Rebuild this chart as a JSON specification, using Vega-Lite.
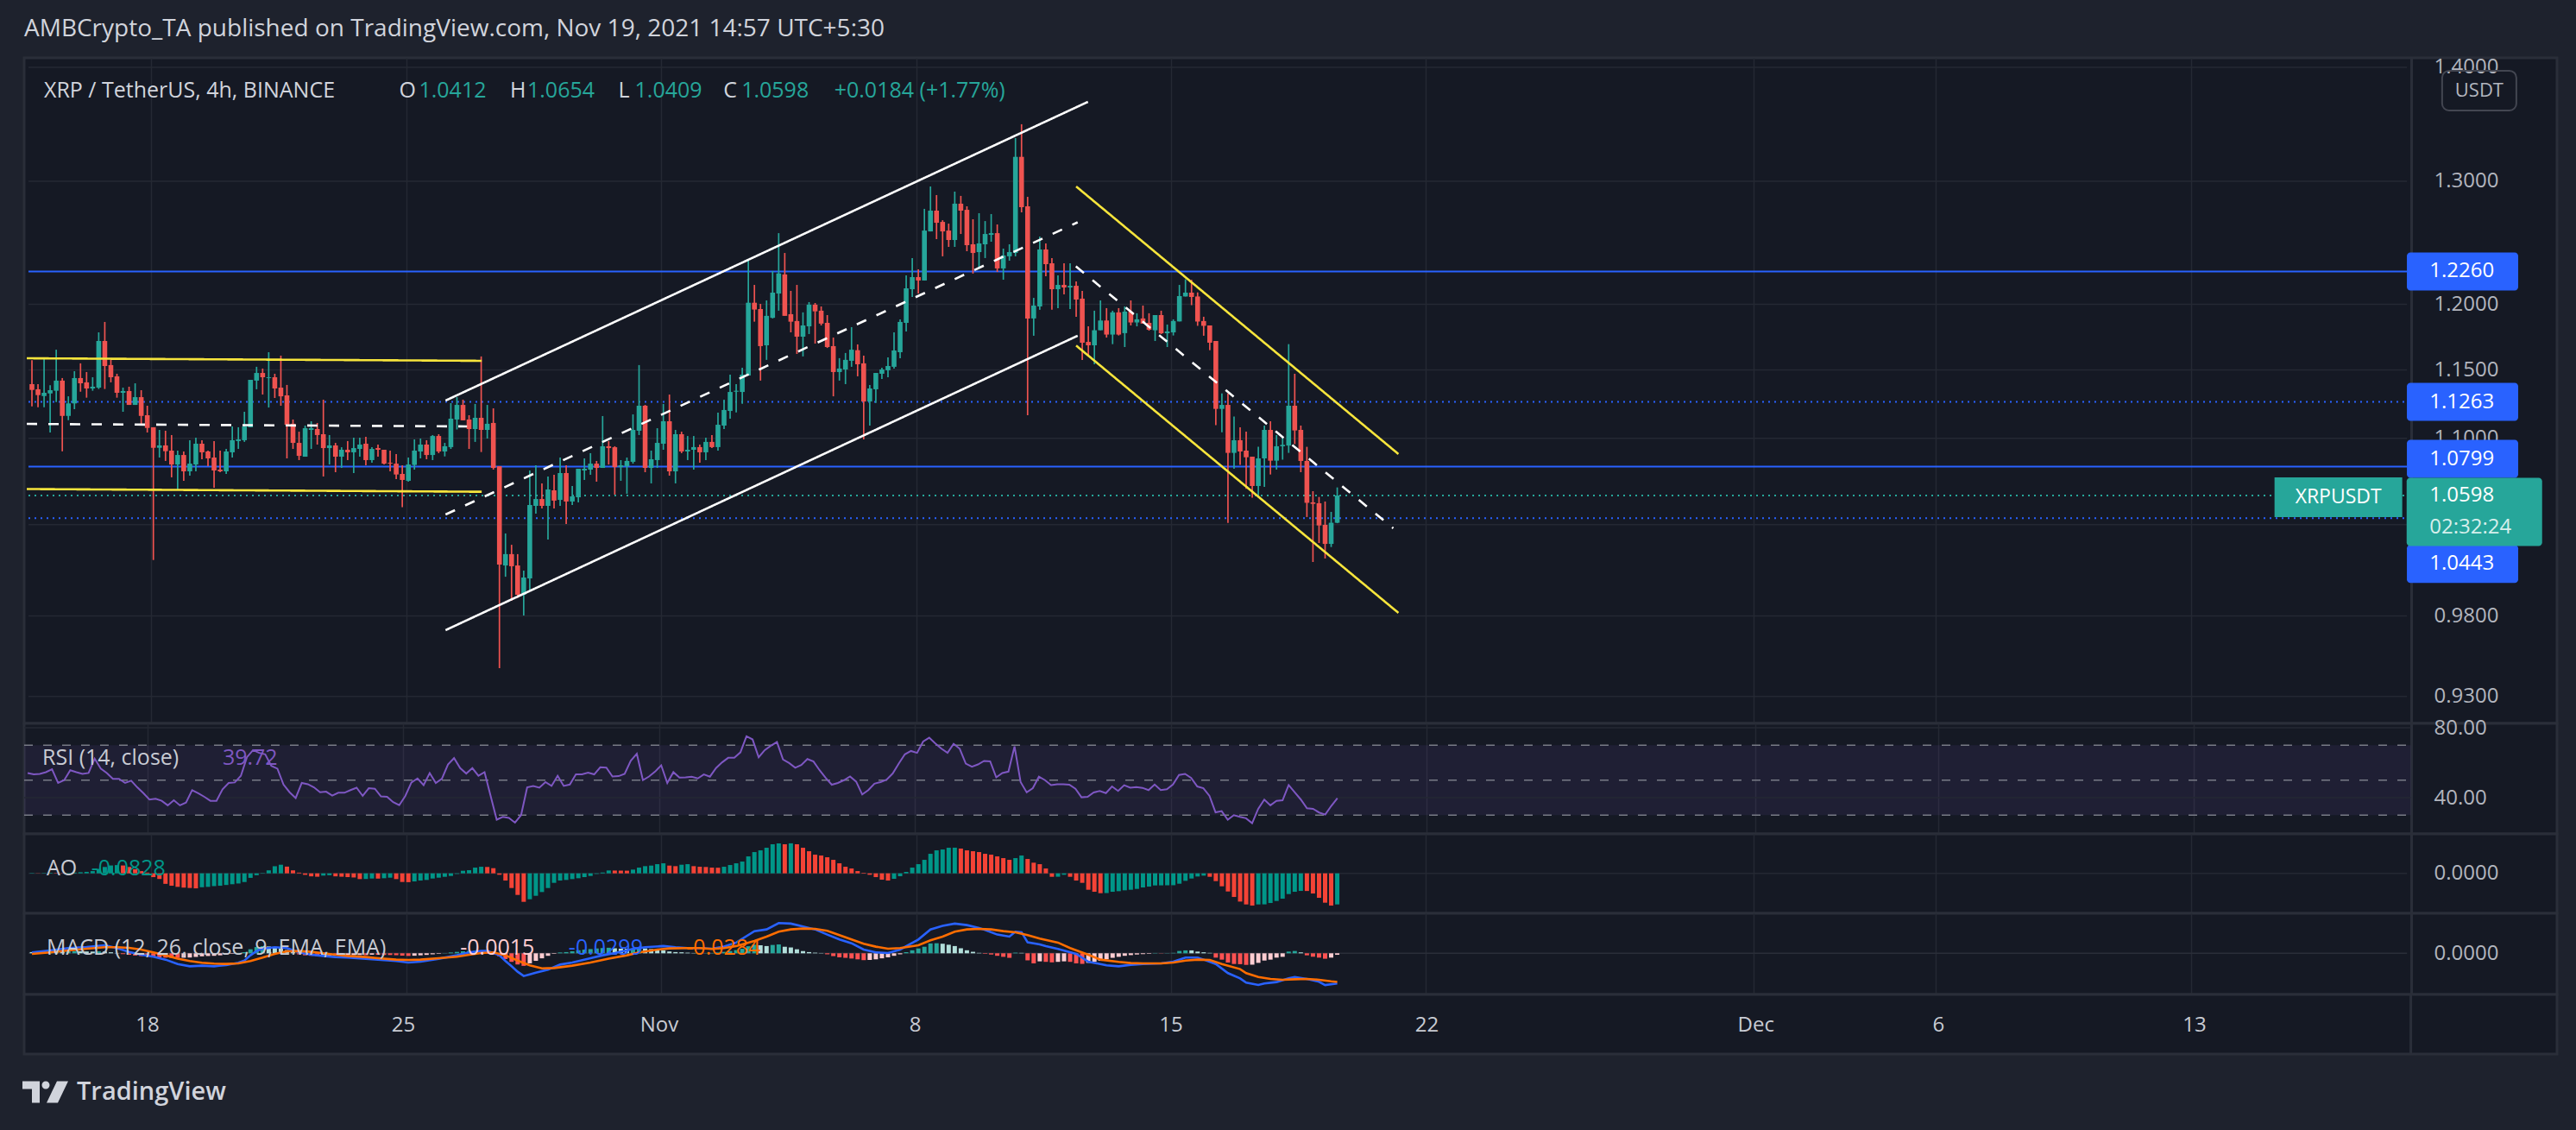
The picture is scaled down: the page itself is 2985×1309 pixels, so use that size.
{
"$schema":"https://vega.github.io/schema/vega-lite/v6.json",
"background":"#1e222d",
"padding":{"left":25,"right":25,"top":20,"bottom":0},
"title":{"text":"AMBCrypto_TA published on TradingView.com, Nov 19, 2021 14:57 UTC+5:30","anchor":"start","fontSize":28,"fontWeight":"normal","color":"#d1d4dc","offset":16,"frame":"group"},
"config":{"font":"Open Sans","view":{"fill":"#151924","stroke":"#2a2e39","strokeWidth":3},
"axis":{"domain":false,"ticks":false,"tickSize":0,"grid":false,"title":null,"labelColor":"#b2b5be","labelFontSize":24,"labelFont":"Open Sans","labelOverlap":false,"labelFlush":false,"labelBound":false},
"axisX":{"labels":false}},
"spacing":0,
"bounds":"flush",
"resolve":{"scale":{"x":"independent","y":"independent","color":"independent","strokeDash":"independent"},"axis":{"x":"independent","y":"independent"}},
"datasets":{
"pgrid":[{"p":1.4},{"p":1.3},{"p":1.2},{"p":1.15},{"p":1.1},{"p":1.04},{"p":0.98},{"p":0.93}],
"levels":[{"p":1.226,"t":"1.2260","k":"line"},{"p":1.1263,"t":"1.1263","k":"alert"},{"p":1.0799,"t":"1.0799","k":"line"},{"p":1.0598,"t":"1.0598","k":"last","t2":"02:32:24"},{"p":1.0443,"t":"1.0443","k":"alert"}],
"tl":[{"id":"r1","s":"range","i":-0.85,"p":1.1587},{"id":"r1","s":"range","i":74.08,"p":1.1568},
{"id":"r2","s":"range","i":-0.85,"p":1.0643},{"id":"r2","s":"range","i":74.08,"p":1.0624},
{"id":"m1","s":"mid","i":-0.85,"p":1.1103},{"id":"m1","s":"mid","i":71.67,"p":1.1085},
{"id":"a1","s":"channel","i":68.13,"p":1.1273},{"id":"a1","s":"channel","i":173.94,"p":1.3689},
{"id":"a2","s":"channel","i":68.13,"p":0.971},{"id":"a2","s":"channel","i":172.24,"p":1.1758},
{"id":"m2","s":"mid","i":68.13,"p":1.0468},{"id":"m2","s":"mid","i":172.24,"p":1.2658},
{"id":"m3","s":"mid","i":171.95,"p":1.23},{"id":"m3","s":"mid","i":224.22,"p":1.0375},
{"id":"d1","s":"falling","i":172.0,"p":1.2956},{"id":"d1","s":"falling","i":225.07,"p":1.0888},
{"id":"d2","s":"falling","i":172.0,"p":1.1683},{"id":"d2","s":"falling","i":225.07,"p":0.982}],
"ml":[{"i":0,"m":0.0009},{"i":3,"m":0.0029},{"i":6,"m":0.0052},{"i":9,"m":0.0063},{"i":12,"m":0.008},{"i":14,"m":0.0052},{"i":16,"m":0.0014},{"i":18,"m":-0.0014},{"i":20,"m":-0.0034},{"i":22,"m":-0.0063},{"i":24,"m":-0.0106},{"i":26,"m":-0.0129},{"i":28,"m":-0.0123},{"i":30,"m":-0.0129},{"i":32,"m":-0.0117},{"i":34,"m":-0.0094},{"i":35,"m":-0.0072},{"i":36,"m":-0.002},{"i":37,"m":0.0023},{"i":38,"m":0.0046},{"i":40,"m":0.006},{"i":42,"m":0.0052},{"i":44,"m":0.0009},{"i":46,"m":-0.0014},{"i":48,"m":-0.0026},{"i":50,"m":-0.0037},{"i":52,"m":-0.0043},{"i":55,"m":-0.0054},{"i":57,"m":-0.0063},{"i":60,"m":-0.0077},{"i":62,"m":-0.0092},{"i":64,"m":-0.0083},{"i":67,"m":-0.0054},{"i":70,"m":-0.002},{"i":72,"m":0.0009},{"i":74,"m":0.0023},{"i":75,"m":0.0023},{"i":77,"m":-0.002},{"i":78,"m":-0.0077},{"i":79,"m":-0.0129},{"i":80,"m":-0.0183},{"i":81,"m":-0.0226},{"i":82,"m":-0.0209},{"i":83,"m":-0.0192},{"i":85,"m":-0.0163},{"i":87,"m":-0.0112},{"i":89,"m":-0.0092},{"i":92,"m":-0.0049},{"i":94,"m":-0.002},{"i":96,"m":0.0003},{"i":99,"m":0.0043},{"i":101,"m":0.006},{"i":104,"m":0.0072},{"i":106,"m":0.006},{"i":108,"m":0.0052},{"i":110,"m":0.0052},{"i":112,"m":0.0046},{"i":114,"m":0.0066},{"i":116,"m":0.0106},{"i":119,"m":0.022},{"i":121,"m":0.0237},{"i":123,"m":0.03},{"i":125,"m":0.0295},{"i":127,"m":0.0266},{"i":129,"m":0.0237},{"i":131,"m":0.0186},{"i":133,"m":0.0137},{"i":135,"m":0.01},{"i":137,"m":0.0037},{"i":139,"m":0.0009},{"i":141,"m":0.0003},{"i":143,"m":0.0037},{"i":146,"m":0.0137},{"i":148,"m":0.0237},{"i":150,"m":0.0272},{"i":152,"m":0.0295},{"i":154,"m":0.028},{"i":156,"m":0.0252},{"i":157,"m":0.0232},{"i":159,"m":0.0186},{"i":161,"m":0.0166},{"i":162,"m":0.0215},{"i":163,"m":0.0209},{"i":164,"m":0.0109},{"i":166,"m":0.0089},{"i":167,"m":0.0072},{"i":169,"m":0.0043},{"i":172,"m":-0.0006},{"i":174,"m":-0.0083},{"i":177,"m":-0.012},{"i":179,"m":-0.0129},{"i":181,"m":-0.0114},{"i":183,"m":-0.0106},{"i":186,"m":-0.01},{"i":188,"m":-0.0083},{"i":190,"m":-0.0043},{"i":192,"m":-0.0043},{"i":193,"m":-0.0063},{"i":195,"m":-0.0106},{"i":197,"m":-0.0197},{"i":199,"m":-0.0249},{"i":200,"m":-0.0292},{"i":202,"m":-0.0315},{"i":203,"m":-0.03},{"i":205,"m":-0.0286},{"i":207,"m":-0.0249},{"i":208,"m":-0.0235},{"i":210,"m":-0.0255},{"i":212,"m":-0.0283},{"i":213,"m":-0.0315},{"i":215,"m":-0.0299}],
"sl":[{"i":0,"s":-0.0006},{"i":3,"s":0.0009},{"i":6,"s":0.0029},{"i":9,"s":0.0046},{"i":12,"s":0.006},{"i":14,"s":0.006},{"i":16,"s":0.0054},{"i":18,"s":0.0037},{"i":20,"s":0.0009},{"i":22,"s":-0.002},{"i":24,"s":-0.0054},{"i":26,"s":-0.0077},{"i":28,"s":-0.0094},{"i":30,"s":-0.0103},{"i":32,"s":-0.0106},{"i":34,"s":-0.01},{"i":36,"s":-0.0077},{"i":38,"s":-0.0043},{"i":40,"s":-0.0006},{"i":42,"s":0.002},{"i":44,"s":0.0023},{"i":46,"s":0.0014},{"i":48,"s":0.0},{"i":50,"s":-0.0014},{"i":52,"s":-0.0026},{"i":55,"s":-0.0037},{"i":57,"s":-0.0049},{"i":60,"s":-0.0063},{"i":62,"s":-0.0066},{"i":64,"s":-0.0063},{"i":67,"s":-0.0049},{"i":70,"s":-0.0034},{"i":72,"s":-0.0014},{"i":74,"s":0.0003},{"i":76,"s":0.0009},{"i":78,"s":-0.002},{"i":80,"s":-0.0072},{"i":82,"s":-0.012},{"i":84,"s":-0.0149},{"i":86,"s":-0.0146},{"i":89,"s":-0.0123},{"i":92,"s":-0.0092},{"i":95,"s":-0.0054},{"i":98,"s":-0.002},{"i":100,"s":0.0009},{"i":103,"s":0.0037},{"i":105,"s":0.0049},{"i":108,"s":0.0052},{"i":110,"s":0.0052},{"i":112,"s":0.0043},{"i":114,"s":0.0052},{"i":116,"s":0.0072},{"i":119,"s":0.0123},{"i":121,"s":0.0166},{"i":123,"s":0.0215},{"i":125,"s":0.0237},{"i":127,"s":0.0246},{"i":129,"s":0.0243},{"i":131,"s":0.0223},{"i":133,"s":0.018},{"i":135,"s":0.0137},{"i":137,"s":0.0094},{"i":139,"s":0.0066},{"i":141,"s":0.0046},{"i":143,"s":0.0052},{"i":146,"s":0.008},{"i":148,"s":0.0129},{"i":150,"s":0.0166},{"i":152,"s":0.0215},{"i":154,"s":0.0237},{"i":156,"s":0.0243},{"i":158,"s":0.0237},{"i":160,"s":0.022},{"i":162,"s":0.0209},{"i":164,"s":0.018},{"i":166,"s":0.0146},{"i":169,"s":0.0106},{"i":171,"s":0.0052},{"i":174,"s":-0.0014},{"i":176,"s":-0.0063},{"i":179,"s":-0.0086},{"i":181,"s":-0.0097},{"i":183,"s":-0.01},{"i":186,"s":-0.01},{"i":188,"s":-0.0092},{"i":190,"s":-0.0072},{"i":192,"s":-0.0063},{"i":194,"s":-0.0066},{"i":196,"s":-0.0106},{"i":199,"s":-0.0157},{"i":200,"s":-0.0197},{"i":202,"s":-0.0235},{"i":204,"s":-0.0255},{"i":206,"s":-0.0263},{"i":208,"s":-0.0258},{"i":210,"s":-0.0255},{"i":212,"s":-0.0263},{"i":214,"s":-0.0278},{"i":215,"s":-0.0284}],
"k":[
{"i":0,"o":1.1394,"h":1.1573,"l":1.1231,"c":1.1351,"r":54.1,"a":0.001,"ad":"u","hv":0.0012,"hc":"pd"},
{"i":1,"o":1.1356,"h":1.1394,"l":1.1224,"c":1.1313,"r":53.3,"a":0.0005,"ad":"d","hv":0.0014,"hc":"pu"},
{"i":2,"o":1.1306,"h":1.1594,"l":1.1224,"c":1.133,"r":53.6,"a":0.001,"ad":"u","hv":0.0016,"hc":"pu"},
{"i":3,"o":1.1325,"h":1.1386,"l":1.1041,"c":1.1349,"r":54.6,"a":0.0015,"ad":"u","hv":0.0018,"hc":"pu"},
{"i":4,"o":1.1345,"h":1.1652,"l":1.1262,"c":1.142,"r":56.2,"a":0.001,"ad":"d","hv":0.002,"hc":"pu"},
{"i":5,"o":1.142,"h":1.1439,"l":1.0907,"c":1.1161,"r":48.4,"a":0.0005,"ad":"d","hv":0.0019,"hc":"pd"},
{"i":6,"o":1.1161,"h":1.1304,"l":1.113,"c":1.1252,"r":50.0,"a":0.001,"ad":"u","hv":0.002,"hc":"pu"},
{"i":7,"o":1.1252,"h":1.149,"l":1.121,"c":1.1439,"r":55.7,"a":0.002,"ad":"u","hv":0.0022,"hc":"pu"},
{"i":8,"o":1.1439,"h":1.1549,"l":1.1338,"c":1.14,"r":54.6,"a":0.003,"ad":"u","hv":0.002,"hc":"pd"},
{"i":9,"o":1.1407,"h":1.1484,"l":1.1294,"c":1.1362,"r":53.6,"a":0.004,"ad":"u","hv":0.0018,"hc":"pd"},
{"i":10,"o":1.1362,"h":1.1445,"l":1.1345,"c":1.1375,"r":54.1,"a":0.006,"ad":"u","hv":0.0017,"hc":"pd"},
{"i":11,"o":1.1368,"h":1.1784,"l":1.1358,"c":1.1718,"r":62.3,"a":0.012,"ad":"u","hv":0.0019,"hc":"pu"},
{"i":12,"o":1.1718,"h":1.1864,"l":1.1358,"c":1.1529,"r":56.6,"a":0.017,"ad":"u","hv":0.0018,"hc":"pd"},
{"i":13,"o":1.1536,"h":1.1588,"l":1.1407,"c":1.1445,"r":54.1,"a":0.021,"ad":"u","hv":0.001,"hc":"pd"},
{"i":14,"o":1.1452,"h":1.1471,"l":1.1294,"c":1.133,"r":50.8,"a":0.022,"ad":"u","hv":0.0002,"hc":"pd"},
{"i":15,"o":1.133,"h":1.1368,"l":1.1191,"c":1.1343,"r":50.8,"a":0.021,"ad":"d","hv":-0.0008,"hc":"nd"},
{"i":16,"o":1.1343,"h":1.1375,"l":1.1241,"c":1.1241,"r":48.4,"a":0.017,"ad":"d","hv":-0.0015,"hc":"nd"},
{"i":17,"o":1.1241,"h":1.14,"l":1.1241,"c":1.1298,"r":49.7,"a":0.011,"ad":"d","hv":-0.0022,"hc":"nd"},
{"i":18,"o":1.1298,"h":1.1349,"l":1.1097,"c":1.1161,"r":45.9,"a":0.006,"ad":"d","hv":-0.0028,"hc":"nd"},
{"i":19,"o":1.1166,"h":1.1235,"l":1.1041,"c":1.1074,"r":42.6,"a":0.002,"ad":"d","hv":-0.0032,"hc":"nd"},
{"i":20,"o":1.1079,"h":1.1079,"l":1.0163,"c":1.0932,"r":38.9,"a":-0.01,"ad":"d","hv":-0.0036,"hc":"nd"},
{"i":21,"o":1.0932,"h":1.106,"l":1.0863,"c":1.0949,"r":39.4,"a":-0.015,"ad":"d","hv":-0.004,"hc":"nd"},
{"i":22,"o":1.0949,"h":1.1054,"l":1.0839,"c":1.0908,"r":38.2,"a":-0.028,"ad":"d","hv":-0.0043,"hc":"nd"},
{"i":23,"o":1.0912,"h":1.1023,"l":1.0724,"c":1.0814,"r":35.6,"a":-0.033,"ad":"d","hv":-0.0045,"hc":"nd"},
{"i":24,"o":1.0814,"h":1.0912,"l":1.0634,"c":1.0881,"r":38.5,"a":-0.036,"ad":"d","hv":-0.0046,"hc":"nd"},
{"i":25,"o":1.0881,"h":1.0906,"l":1.07,"c":1.0766,"r":35.6,"a":-0.038,"ad":"d","hv":-0.0044,"hc":"nu"},
{"i":26,"o":1.0766,"h":1.0986,"l":1.0736,"c":1.082,"r":37.2,"a":-0.039,"ad":"d","hv":-0.0042,"hc":"nu"},
{"i":27,"o":1.0814,"h":1.1004,"l":1.0766,"c":1.0961,"r":44.3,"a":-0.04,"ad":"d","hv":-0.0036,"hc":"nu"},
{"i":28,"o":1.0961,"h":1.0986,"l":1.0851,"c":1.09,"r":42.5,"a":-0.037,"ad":"u","hv":-0.003,"hc":"nu"},
{"i":29,"o":1.0906,"h":1.0912,"l":1.0802,"c":1.0857,"r":40.5,"a":-0.036,"ad":"u","hv":-0.0027,"hc":"nu"},
{"i":30,"o":1.0863,"h":1.098,"l":1.0652,"c":1.0772,"r":38.2,"a":-0.034,"ad":"u","hv":-0.0025,"hc":"nu"},
{"i":31,"o":1.0778,"h":1.0912,"l":1.076,"c":1.0766,"r":38.2,"a":-0.033,"ad":"u","hv":-0.002,"hc":"nu"},
{"i":32,"o":1.0766,"h":1.0924,"l":1.0748,"c":1.0906,"r":44.8,"a":-0.031,"ad":"u","hv":-0.0012,"hc":"nu"},
{"i":33,"o":1.09,"h":1.1085,"l":1.0863,"c":1.0986,"r":48.4,"a":-0.029,"ad":"u","hv":-0.0005,"hc":"nu"},
{"i":34,"o":1.098,"h":1.1079,"l":1.0924,"c":1.0992,"r":48.7,"a":-0.027,"ad":"u","hv":0.0004,"hc":"pu"},
{"i":35,"o":1.0986,"h":1.1191,"l":1.0974,"c":1.1085,"r":52.5,"a":-0.023,"ad":"u","hv":0.0012,"hc":"pu"},
{"i":36,"o":1.1079,"h":1.1426,"l":1.1079,"c":1.1426,"r":63.1,"a":-0.012,"ad":"u","hv":0.004,"hc":"pu"},
{"i":37,"o":1.142,"h":1.1523,"l":1.1356,"c":1.1477,"r":67.2,"a":-0.005,"ad":"u","hv":0.0062,"hc":"pu"},
{"i":38,"o":1.1477,"h":1.151,"l":1.1317,"c":1.1445,"r":65.6,"a":0.001,"ad":"u","hv":0.007,"hc":"pu"},
{"i":39,"o":1.1439,"h":1.1633,"l":1.1222,"c":1.1445,"r":64.8,"a":0.008,"ad":"u","hv":0.0068,"hc":"pd"},
{"i":40,"o":1.1445,"h":1.1471,"l":1.1292,"c":1.1362,"r":58.2,"a":0.019,"ad":"u","hv":0.0063,"hc":"pd"},
{"i":41,"o":1.1368,"h":1.1607,"l":1.1235,"c":1.1304,"r":56.6,"a":0.023,"ad":"u","hv":0.005,"hc":"pd"},
{"i":42,"o":1.1311,"h":1.1388,"l":1.0857,"c":1.1097,"r":47.5,"a":0.018,"ad":"d","hv":0.0032,"hc":"pd"},
{"i":43,"o":1.1104,"h":1.1135,"l":1.0924,"c":1.0967,"r":43.1,"a":0.008,"ad":"d","hv":0.0012,"hc":"pd"},
{"i":44,"o":1.0967,"h":1.1047,"l":1.0845,"c":1.0875,"r":39.8,"a":0.002,"ad":"d","hv":-0.001,"hc":"nd"},
{"i":45,"o":1.0869,"h":1.1091,"l":1.0869,"c":1.1072,"r":48.4,"a":-0.004,"ad":"d","hv":-0.002,"hc":"nd"},
{"i":46,"o":1.106,"h":1.1122,"l":1.0924,"c":1.1072,"r":47.7,"a":-0.008,"ad":"d","hv":-0.0025,"hc":"nd"},
{"i":47,"o":1.1066,"h":1.111,"l":1.0955,"c":1.1023,"r":45.9,"a":-0.009,"ad":"d","hv":-0.0026,"hc":"nd"},
{"i":48,"o":1.1029,"h":1.1279,"l":1.073,"c":1.093,"r":43.1,"a":-0.006,"ad":"u","hv":-0.0024,"hc":"nu"},
{"i":49,"o":1.093,"h":1.1023,"l":1.0814,"c":1.0949,"r":43.4,"a":-0.005,"ad":"u","hv":-0.0022,"hc":"nu"},
{"i":50,"o":1.0949,"h":1.0967,"l":1.076,"c":1.0869,"r":41.2,"a":-0.008,"ad":"d","hv":-0.0023,"hc":"nd"},
{"i":51,"o":1.0869,"h":1.0936,"l":1.079,"c":1.0918,"r":42.8,"a":-0.009,"ad":"d","hv":-0.0021,"hc":"nu"},
{"i":52,"o":1.0918,"h":1.098,"l":1.0845,"c":1.09,"r":42.8,"a":-0.01,"ad":"d","hv":-0.0019,"hc":"nu"},
{"i":53,"o":1.09,"h":1.1004,"l":1.0754,"c":1.093,"r":44.3,"a":-0.011,"ad":"d","hv":-0.0018,"hc":"nu"},
{"i":54,"o":1.0924,"h":1.1004,"l":1.0869,"c":1.0955,"r":45.7,"a":-0.0153,"ad":"d","hv":-0.0017,"hc":"nu"},
{"i":55,"o":1.0961,"h":1.101,"l":1.0808,"c":1.0845,"r":41.0,"a":-0.015,"ad":"u","hv":-0.0019,"hc":"nd"},
{"i":56,"o":1.0845,"h":1.0936,"l":1.0827,"c":1.0924,"r":45.4,"a":-0.0138,"ad":"u","hv":-0.0014,"hc":"nu"},
{"i":57,"o":1.093,"h":1.0955,"l":1.0869,"c":1.0918,"r":45.1,"a":-0.014,"ad":"d","hv":-0.0015,"hc":"nd"},
{"i":58,"o":1.0918,"h":1.0918,"l":1.0814,"c":1.082,"r":40.7,"a":-0.013,"ad":"u","hv":-0.0016,"hc":"nd"},
{"i":59,"o":1.0826,"h":1.0912,"l":1.0766,"c":1.082,"r":40.5,"a":-0.0115,"ad":"u","hv":-0.0017,"hc":"nd"},
{"i":60,"o":1.082,"h":1.0887,"l":1.0712,"c":1.0744,"r":37.4,"a":-0.0153,"ad":"d","hv":-0.0019,"hc":"nd"},
{"i":61,"o":1.0748,"h":1.0808,"l":1.0518,"c":1.0706,"r":35.7,"a":-0.023,"ad":"d","hv":-0.0023,"hc":"nd"},
{"i":62,"o":1.07,"h":1.0863,"l":1.0694,"c":1.0814,"r":41.0,"a":-0.0235,"ad":"d","hv":-0.0026,"hc":"nd"},
{"i":63,"o":1.0811,"h":1.0992,"l":1.0778,"c":1.0912,"r":48.7,"a":-0.0215,"ad":"u","hv":-0.0024,"hc":"nu"},
{"i":64,"o":1.0906,"h":1.0998,"l":1.0857,"c":1.0955,"r":51.0,"a":-0.0192,"ad":"u","hv":-0.002,"hc":"nu"},
{"i":65,"o":1.0955,"h":1.0986,"l":1.0851,"c":1.0881,"r":47.2,"a":-0.0176,"ad":"u","hv":-0.0016,"hc":"nu"},
{"i":66,"o":1.0881,"h":1.1023,"l":1.0845,"c":1.1016,"r":54.1,"a":-0.0138,"ad":"u","hv":-0.001,"hc":"nu"},
{"i":67,"o":1.1016,"h":1.1029,"l":1.0894,"c":1.0906,"r":48.4,"a":-0.0115,"ad":"u","hv":-0.0005,"hc":"nu"},
{"i":68,"o":1.0906,"h":1.0967,"l":1.0871,"c":1.0943,"r":50.8,"a":-0.0092,"ad":"u","hv":0.0002,"hc":"pu"},
{"i":69,"o":1.0937,"h":1.1254,"l":1.0924,"c":1.1141,"r":59.0,"a":-0.0069,"ad":"u","hv":0.0008,"hc":"pu"},
{"i":70,"o":1.1135,"h":1.1298,"l":1.1063,"c":1.1241,"r":62.6,"a":-0.0015,"ad":"u","hv":0.0014,"hc":"pu"},
{"i":71,"o":1.1241,"h":1.1279,"l":1.1129,"c":1.1129,"r":56.9,"a":0.0069,"ad":"u","hv":0.002,"hc":"pu"},
{"i":72,"o":1.1135,"h":1.1166,"l":1.0924,"c":1.1066,"r":53.8,"a":0.0084,"ad":"u","hv":0.0023,"hc":"pu"},
{"i":73,"o":1.1066,"h":1.1248,"l":1.0974,"c":1.1147,"r":56.9,"a":0.0153,"ad":"u","hv":0.0024,"hc":"pu"},
{"i":74,"o":1.1147,"h":1.1601,"l":1.0902,"c":1.106,"r":52.5,"a":0.0176,"ad":"u","hv":0.002,"hc":"pd"},
{"i":75,"o":1.106,"h":1.1241,"l":1.0998,"c":1.1104,"r":54.6,"a":0.017,"ad":"d","hv":0.0012,"hc":"pd"},
{"i":76,"o":1.111,"h":1.1216,"l":1.0778,"c":1.079,"r":41.0,"a":0.0138,"ad":"d","hv":-0.0005,"hc":"nd"},
{"i":77,"o":1.0802,"h":1.0802,"l":0.9473,"c":1.0133,"r":27.4,"a":-0.0038,"ad":"d","hv":-0.003,"hc":"nd"},
{"i":78,"o":1.0127,"h":1.034,"l":1.0053,"c":1.0202,"r":29.0,"a":-0.0192,"ad":"d","hv":-0.0057,"hc":"nd"},
{"i":79,"o":1.0202,"h":1.0264,"l":0.9897,"c":1.0122,"r":28.4,"a":-0.0391,"ad":"d","hv":-0.0085,"hc":"nd"},
{"i":80,"o":1.0127,"h":1.0202,"l":0.9916,"c":0.9936,"r":25.7,"a":-0.0575,"ad":"d","hv":-0.0111,"hc":"nd"},
{"i":81,"o":0.9936,"h":1.0093,"l":0.9803,"c":1.0048,"r":30.0,"a":-0.0759,"ad":"d","hv":-0.0125,"hc":"nd"},
{"i":82,"o":1.0042,"h":1.0772,"l":0.9958,"c":1.0533,"r":45.9,"a":-0.069,"ad":"u","hv":-0.01,"hc":"nu"},
{"i":83,"o":1.0527,"h":1.0808,"l":1.0474,"c":1.0574,"r":46.7,"a":-0.0598,"ad":"u","hv":-0.0075,"hc":"nu"},
{"i":84,"o":1.0574,"h":1.0682,"l":1.0509,"c":1.0527,"r":45.7,"a":-0.0498,"ad":"u","hv":-0.005,"hc":"nu"},
{"i":85,"o":1.0527,"h":1.073,"l":1.0299,"c":1.064,"r":48.9,"a":-0.0391,"ad":"u","hv":-0.0025,"hc":"nu"},
{"i":86,"o":1.0634,"h":1.0742,"l":1.0509,"c":1.0563,"r":46.7,"a":-0.0253,"ad":"u","hv":-0.0005,"hc":"nu"},
{"i":87,"o":1.0568,"h":1.0863,"l":1.0527,"c":1.0754,"r":52.5,"a":-0.0192,"ad":"u","hv":0.0008,"hc":"pu"},
{"i":88,"o":1.0754,"h":1.0808,"l":1.0404,"c":1.0557,"r":46.7,"a":-0.0176,"ad":"u","hv":0.0012,"hc":"pu"},
{"i":89,"o":1.0557,"h":1.0664,"l":1.0533,"c":1.0592,"r":47.5,"a":-0.0153,"ad":"u","hv":0.002,"hc":"pu"},
{"i":90,"o":1.0586,"h":1.0784,"l":1.0551,"c":1.0784,"r":53.3,"a":-0.013,"ad":"u","hv":0.003,"hc":"pu"},
{"i":91,"o":1.0772,"h":1.0857,"l":1.0706,"c":1.0784,"r":53.3,"a":-0.01,"ad":"u","hv":0.0036,"hc":"pu"},
{"i":92,"o":1.0778,"h":1.0894,"l":1.0742,"c":1.082,"r":54.3,"a":-0.0069,"ad":"u","hv":0.0042,"hc":"pu"},
{"i":93,"o":1.082,"h":1.0839,"l":1.0694,"c":1.079,"r":53.3,"a":-0.0015,"ad":"u","hv":0.0048,"hc":"pu"},
{"i":94,"o":1.079,"h":1.116,"l":1.079,"c":1.0943,"r":57.4,"a":0.0023,"ad":"u","hv":0.0052,"hc":"pu"},
{"i":95,"o":1.0943,"h":1.098,"l":1.0814,"c":1.093,"r":57.2,"a":0.0077,"ad":"u","hv":0.0055,"hc":"pu"},
{"i":96,"o":1.0936,"h":1.0943,"l":1.0604,"c":1.0796,"r":52.1,"a":0.0075,"ad":"d","hv":0.005,"hc":"pd"},
{"i":97,"o":1.0796,"h":1.0845,"l":1.07,"c":1.0808,"r":52.3,"a":0.0073,"ad":"d","hv":0.0046,"hc":"pd"},
{"i":98,"o":1.0802,"h":1.0863,"l":1.061,"c":1.0839,"r":53.6,"a":0.0071,"ad":"d","hv":0.0045,"hc":"pd"},
{"i":99,"o":1.0833,"h":1.1172,"l":1.082,"c":1.106,"r":61.1,"a":0.01,"ad":"u","hv":0.0048,"hc":"pu"},
{"i":100,"o":1.1054,"h":1.1536,"l":1.1023,"c":1.1235,"r":65.1,"a":0.0153,"ad":"u","hv":0.005,"hc":"pu"},
{"i":101,"o":1.1235,"h":1.1241,"l":1.076,"c":1.079,"r":50.0,"a":0.0192,"ad":"u","hv":0.0048,"hc":"pd"},
{"i":102,"o":1.079,"h":1.0912,"l":1.0682,"c":1.0851,"r":52.1,"a":0.0207,"ad":"u","hv":0.0042,"hc":"pd"},
{"i":103,"o":1.0845,"h":1.1072,"l":1.079,"c":1.0967,"r":54.9,"a":0.0245,"ad":"u","hv":0.0037,"hc":"pd"},
{"i":104,"o":1.0961,"h":1.1248,"l":1.0918,"c":1.1122,"r":58.5,"a":0.0268,"ad":"u","hv":0.003,"hc":"pd"},
{"i":105,"o":1.1122,"h":1.1317,"l":1.0736,"c":1.0766,"r":48.4,"a":0.0207,"ad":"d","hv":0.0018,"hc":"pd"},
{"i":106,"o":1.0766,"h":1.106,"l":1.0682,"c":1.1029,"r":54.6,"a":0.0192,"ad":"d","hv":0.0012,"hc":"pd"},
{"i":107,"o":1.1029,"h":1.1047,"l":1.0894,"c":1.0906,"r":51.5,"a":0.023,"ad":"u","hv":0.001,"hc":"pd"},
{"i":108,"o":1.0906,"h":1.1016,"l":1.0845,"c":1.0918,"r":51.6,"a":0.0245,"ad":"u","hv":0.0006,"hc":"pd"},
{"i":109,"o":1.0918,"h":1.1016,"l":1.0778,"c":1.0937,"r":52.0,"a":0.0192,"ad":"d","hv":0.0003,"hc":"pd"},
{"i":110,"o":1.0937,"h":1.0955,"l":1.0827,"c":1.09,"r":51.0,"a":0.0176,"ad":"d","hv":0.0001,"hc":"pd"},
{"i":111,"o":1.09,"h":1.1004,"l":1.0845,"c":1.0974,"r":53.3,"a":0.017,"ad":"d","hv":0.0002,"hc":"pu"},
{"i":112,"o":1.0974,"h":1.1023,"l":1.093,"c":1.0937,"r":52.0,"a":0.0153,"ad":"d","hv":0.0003,"hc":"pu"},
{"i":113,"o":1.0937,"h":1.1185,"l":1.0912,"c":1.1097,"r":56.9,"a":0.015,"ad":"d","hv":0.0008,"hc":"pu"},
{"i":114,"o":1.1091,"h":1.1279,"l":1.1066,"c":1.1204,"r":60.2,"a":0.0176,"ad":"u","hv":0.0014,"hc":"pu"},
{"i":115,"o":1.1197,"h":1.1464,"l":1.1141,"c":1.1336,"r":62.8,"a":0.0222,"ad":"u","hv":0.0022,"hc":"pu"},
{"i":116,"o":1.1338,"h":1.1394,"l":1.1187,"c":1.1345,"r":62.8,"a":0.0268,"ad":"u","hv":0.0032,"hc":"pu"},
{"i":117,"o":1.1336,"h":1.1516,"l":1.125,"c":1.1464,"r":65.9,"a":0.0314,"ad":"u","hv":0.0045,"hc":"pu"},
{"i":118,"o":1.1458,"h":1.236,"l":1.1458,"c":1.2013,"r":75.1,"a":0.0452,"ad":"u","hv":0.007,"hc":"pu"},
{"i":119,"o":1.2013,"h":1.2153,"l":1.1866,"c":1.196,"r":73.3,"a":0.0567,"ad":"u","hv":0.0085,"hc":"pu"},
{"i":120,"o":1.1964,"h":1.2004,"l":1.142,"c":1.1679,"r":63.1,"a":0.0613,"ad":"u","hv":0.008,"hc":"pd"},
{"i":121,"o":1.1685,"h":1.2031,"l":1.1575,"c":1.1911,"r":67.2,"a":0.0682,"ad":"u","hv":0.0072,"hc":"pd"},
{"i":122,"o":1.1896,"h":1.2263,"l":1.1891,"c":1.2092,"r":69.7,"a":0.0775,"ad":"u","hv":0.0083,"hc":"pu"},
{"i":123,"o":1.2085,"h":1.2569,"l":1.1951,"c":1.2244,"r":71.8,"a":0.0798,"ad":"u","hv":0.0088,"hc":"pu"},
{"i":124,"o":1.2236,"h":1.2408,"l":1.1911,"c":1.1911,"r":61.8,"a":0.0775,"ad":"d","hv":0.0065,"hc":"pd"},
{"i":125,"o":1.1924,"h":1.2106,"l":1.1784,"c":1.1866,"r":59.8,"a":0.08,"ad":"u","hv":0.0058,"hc":"pd"},
{"i":126,"o":1.1871,"h":1.2153,"l":1.162,"c":1.1751,"r":57.1,"a":0.0775,"ad":"d","hv":0.004,"hc":"pd"},
{"i":127,"o":1.1751,"h":1.1938,"l":1.1601,"c":1.1837,"r":58.7,"a":0.0682,"ad":"d","hv":0.0022,"hc":"pd"},
{"i":128,"o":1.183,"h":1.2018,"l":1.1771,"c":1.1998,"r":62.1,"a":0.059,"ad":"d","hv":0.0012,"hc":"pd"},
{"i":129,"o":1.1998,"h":1.2011,"l":1.1698,"c":1.1946,"r":60.7,"a":0.0498,"ad":"d","hv":0.0006,"hc":"pd"},
{"i":130,"o":1.1951,"h":1.1984,"l":1.1837,"c":1.1851,"r":55.7,"a":0.0475,"ad":"d","hv":0.0003,"hc":"pd"},
{"i":131,"o":1.1857,"h":1.1917,"l":1.1665,"c":1.1672,"r":51.3,"a":0.0429,"ad":"d","hv":-0.001,"hc":"nd"},
{"i":132,"o":1.1679,"h":1.1744,"l":1.1304,"c":1.1484,"r":47.4,"a":0.036,"ad":"d","hv":-0.0028,"hc":"nd"},
{"i":133,"o":1.1484,"h":1.1588,"l":1.142,"c":1.151,"r":48.4,"a":0.0268,"ad":"d","hv":-0.004,"hc":"nd"},
{"i":134,"o":1.1503,"h":1.1627,"l":1.1394,"c":1.1575,"r":50.0,"a":0.0176,"ad":"d","hv":-0.0045,"hc":"nd"},
{"i":135,"o":1.1568,"h":1.1824,"l":1.1523,"c":1.1652,"r":52.1,"a":0.013,"ad":"d","hv":-0.0052,"hc":"nd"},
{"i":136,"o":1.1648,"h":1.1692,"l":1.1452,"c":1.1542,"r":49.2,"a":0.0061,"ad":"d","hv":-0.006,"hc":"nd"},
{"i":137,"o":1.1549,"h":1.1607,"l":1.0992,"c":1.1266,"r":41.8,"a":0.0015,"ad":"d","hv":-0.0068,"hc":"nd"},
{"i":138,"o":1.1266,"h":1.1388,"l":1.1091,"c":1.1362,"r":44.3,"a":-0.0038,"ad":"d","hv":-0.0066,"hc":"nu"},
{"i":139,"o":1.1356,"h":1.1477,"l":1.1256,"c":1.1477,"r":48.0,"a":-0.01,"ad":"d","hv":-0.006,"hc":"nu"},
{"i":140,"o":1.1471,"h":1.1516,"l":1.1433,"c":1.1503,"r":48.9,"a":-0.0169,"ad":"d","hv":-0.005,"hc":"nu"},
{"i":141,"o":1.1497,"h":1.1594,"l":1.1445,"c":1.1529,"r":50.3,"a":-0.0192,"ad":"d","hv":-0.004,"hc":"nu"},
{"i":142,"o":1.1523,"h":1.1784,"l":1.151,"c":1.1646,"r":53.8,"a":-0.0146,"ad":"u","hv":-0.0025,"hc":"nu"},
{"i":143,"o":1.1633,"h":1.1884,"l":1.1588,"c":1.1864,"r":59.5,"a":-0.0077,"ad":"u","hv":-0.001,"hc":"nu"},
{"i":144,"o":1.1857,"h":1.2229,"l":1.1791,"c":1.2126,"r":64.8,"a":0.0038,"ad":"u","hv":0.0012,"hc":"pu"},
{"i":145,"o":1.2119,"h":1.2367,"l":1.2058,"c":1.2215,"r":66.7,"a":0.0153,"ad":"u","hv":0.003,"hc":"pu"},
{"i":146,"o":1.2215,"h":1.2277,"l":1.2085,"c":1.2188,"r":65.6,"a":0.0245,"ad":"u","hv":0.0048,"hc":"pu"},
{"i":147,"o":1.2188,"h":1.2769,"l":1.2188,"c":1.259,"r":72.1,"a":0.036,"ad":"u","hv":0.0065,"hc":"pu"},
{"i":148,"o":1.2583,"h":1.2956,"l":1.2583,"c":1.2754,"r":74.3,"a":0.0521,"ad":"u","hv":0.0098,"hc":"pu"},
{"i":149,"o":1.2754,"h":1.2884,"l":1.252,"c":1.2654,"r":71.0,"a":0.0613,"ad":"u","hv":0.01,"hc":"pu"},
{"i":150,"o":1.2661,"h":1.2675,"l":1.2381,"c":1.2583,"r":68.0,"a":0.0636,"ad":"u","hv":0.0095,"hc":"pd"},
{"i":151,"o":1.259,"h":1.2647,"l":1.2457,"c":1.2513,"r":65.6,"a":0.0682,"ad":"u","hv":0.0085,"hc":"pd"},
{"i":152,"o":1.2513,"h":1.2913,"l":1.2457,"c":1.2812,"r":70.8,"a":0.0684,"ad":"u","hv":0.0072,"hc":"pd"},
{"i":153,"o":1.2812,"h":1.2877,"l":1.2562,"c":1.2754,"r":68.0,"a":0.066,"ad":"d","hv":0.005,"hc":"pd"},
{"i":154,"o":1.2761,"h":1.279,"l":1.2422,"c":1.2471,"r":59.5,"a":0.0613,"ad":"d","hv":0.003,"hc":"pd"},
{"i":155,"o":1.2478,"h":1.2683,"l":1.2243,"c":1.2408,"r":57.7,"a":0.059,"ad":"d","hv":0.0015,"hc":"pd"},
{"i":156,"o":1.2415,"h":1.2733,"l":1.2284,"c":1.2485,"r":59.0,"a":0.0567,"ad":"d","hv":0.0004,"hc":"pd"},
{"i":157,"o":1.2478,"h":1.2668,"l":1.2367,"c":1.2562,"r":61.0,"a":0.0521,"ad":"d","hv":-0.0005,"hc":"nd"},
{"i":158,"o":1.2555,"h":1.2726,"l":1.2499,"c":1.2569,"r":60.8,"a":0.0498,"ad":"d","hv":-0.0012,"hc":"nd"},
{"i":159,"o":1.2569,"h":1.264,"l":1.2256,"c":1.2284,"r":51.6,"a":0.0452,"ad":"d","hv":-0.0025,"hc":"nd"},
{"i":160,"o":1.2284,"h":1.2443,"l":1.2194,"c":1.2388,"r":54.1,"a":0.0406,"ad":"d","hv":-0.0035,"hc":"nd"},
{"i":161,"o":1.2381,"h":1.2478,"l":1.2346,"c":1.2415,"r":54.9,"a":0.036,"ad":"d","hv":-0.0045,"hc":"nd"},
{"i":162,"o":1.2408,"h":1.337,"l":1.2381,"c":1.3208,"r":69.3,"a":0.0406,"ad":"u","hv":0.0006,"hc":"pu"},
{"i":163,"o":1.3208,"h":1.3491,"l":1.274,"c":1.2783,"r":48.9,"a":0.0475,"ad":"u","hv":0.0004,"hc":"pd"},
{"i":164,"o":1.279,"h":1.2869,"l":1.1166,"c":1.1891,"r":43.0,"a":0.0383,"ad":"d","hv":-0.007,"hc":"nd"},
{"i":165,"o":1.1891,"h":1.2051,"l":1.1758,"c":1.1991,"r":45.4,"a":0.0284,"ad":"d","hv":-0.01,"hc":"nd"},
{"i":166,"o":1.1984,"h":1.2541,"l":1.1958,"c":1.2436,"r":52.0,"a":0.0245,"ad":"d","hv":-0.008,"hc":"nu"},
{"i":167,"o":1.2436,"h":1.2485,"l":1.2222,"c":1.2318,"r":50.0,"a":0.013,"ad":"d","hv":-0.0085,"hc":"nd"},
{"i":168,"o":1.2325,"h":1.2367,"l":1.1958,"c":1.2119,"r":47.2,"a":-0.0092,"ad":"d","hv":-0.009,"hc":"nd"},
{"i":169,"o":1.2119,"h":1.2229,"l":1.1971,"c":1.2153,"r":47.7,"a":-0.009,"ad":"u","hv":-0.0085,"hc":"nu"},
{"i":170,"o":1.2153,"h":1.2325,"l":1.2078,"c":1.2133,"r":47.7,"a":-0.0038,"ad":"u","hv":-0.008,"hc":"nu"},
{"i":171,"o":1.2133,"h":1.2325,"l":1.1964,"c":1.2146,"r":47.4,"a":-0.0092,"ad":"d","hv":-0.0085,"hc":"nd"},
{"i":172,"o":1.2146,"h":1.2181,"l":1.1904,"c":1.2038,"r":45.1,"a":-0.0192,"ad":"d","hv":-0.01,"hc":"nd"},
{"i":173,"o":1.2045,"h":1.2106,"l":1.1575,"c":1.1705,"r":40.2,"a":-0.0253,"ad":"d","hv":-0.0105,"hc":"nd"},
{"i":174,"o":1.1711,"h":1.1831,"l":1.1614,"c":1.1685,"r":40.5,"a":-0.0437,"ad":"d","hv":-0.0095,"hc":"nu"},
{"i":175,"o":1.1685,"h":1.1951,"l":1.1542,"c":1.18,"r":43.0,"a":-0.0491,"ad":"d","hv":-0.0085,"hc":"nu"},
{"i":176,"o":1.18,"h":1.2031,"l":1.18,"c":1.1875,"r":43.8,"a":-0.0529,"ad":"d","hv":-0.0075,"hc":"nu"},
{"i":177,"o":1.1875,"h":1.1971,"l":1.1744,"c":1.1767,"r":42.6,"a":-0.0525,"ad":"u","hv":-0.006,"hc":"nu"},
{"i":178,"o":1.1767,"h":1.1951,"l":1.1694,"c":1.1938,"r":46.4,"a":-0.0491,"ad":"u","hv":-0.0045,"hc":"nu"},
{"i":179,"o":1.1938,"h":1.1971,"l":1.176,"c":1.1767,"r":43.8,"a":-0.0475,"ad":"u","hv":-0.0035,"hc":"nu"},
{"i":180,"o":1.1778,"h":1.1984,"l":1.1672,"c":1.1944,"r":47.1,"a":-0.0452,"ad":"u","hv":-0.0025,"hc":"nu"},
{"i":181,"o":1.1944,"h":1.2031,"l":1.1837,"c":1.186,"r":45.7,"a":-0.0437,"ad":"u","hv":-0.0018,"hc":"nu"},
{"i":182,"o":1.186,"h":1.1931,"l":1.183,"c":1.1884,"r":46.1,"a":-0.0414,"ad":"u","hv":-0.0012,"hc":"nu"},
{"i":183,"o":1.1891,"h":1.1991,"l":1.1851,"c":1.1851,"r":45.6,"a":-0.0376,"ad":"u","hv":-0.0008,"hc":"nu"},
{"i":184,"o":1.1857,"h":1.1931,"l":1.1797,"c":1.1804,"r":44.3,"a":-0.0353,"ad":"u","hv":-0.0005,"hc":"nu"},
{"i":185,"o":1.18,"h":1.1917,"l":1.1718,"c":1.1917,"r":47.5,"a":-0.0322,"ad":"u","hv":0.0003,"hc":"pu"},
{"i":186,"o":1.1917,"h":1.1951,"l":1.1771,"c":1.1777,"r":44.3,"a":-0.032,"ad":"u","hv":-0.0002,"hc":"nd"},
{"i":187,"o":1.1777,"h":1.1844,"l":1.1672,"c":1.1791,"r":44.8,"a":-0.0318,"ad":"u","hv":0.0002,"hc":"pu"},
{"i":188,"o":1.1784,"h":1.1884,"l":1.176,"c":1.1871,"r":47.5,"a":-0.0316,"ad":"u","hv":0.0004,"hc":"pu"},
{"i":189,"o":1.1868,"h":1.2153,"l":1.1868,"c":1.2065,"r":53.0,"a":-0.0276,"ad":"u","hv":0.0023,"hc":"pu"},
{"i":190,"o":1.2062,"h":1.2197,"l":1.2062,"c":1.2092,"r":53.6,"a":-0.0199,"ad":"u","hv":0.0029,"hc":"pu"},
{"i":191,"o":1.2092,"h":1.2194,"l":1.1994,"c":1.2058,"r":51.3,"a":-0.0138,"ad":"u","hv":0.0029,"hc":"pd"},
{"i":192,"o":1.2062,"h":1.2094,"l":1.1834,"c":1.1867,"r":46.4,"a":-0.0084,"ad":"u","hv":0.0017,"hc":"pd"},
{"i":193,"o":1.1871,"h":1.1904,"l":1.1758,"c":1.1834,"r":45.4,"a":-0.0061,"ad":"u","hv":0.001,"hc":"pd"},
{"i":194,"o":1.1837,"h":1.1837,"l":1.1648,"c":1.1705,"r":41.0,"a":-0.0092,"ad":"d","hv":0.0004,"hc":"pd"},
{"i":195,"o":1.1718,"h":1.1718,"l":1.1094,"c":1.1212,"r":31.6,"a":-0.0207,"ad":"d","hv":-0.0043,"hc":"nd"},
{"i":196,"o":1.1212,"h":1.1325,"l":1.1043,"c":1.1241,"r":32.3,"a":-0.0345,"ad":"d","hv":-0.0063,"hc":"nd"},
{"i":197,"o":1.1241,"h":1.1325,"l":1.0411,"c":1.0896,"r":27.4,"a":-0.0483,"ad":"d","hv":-0.0092,"hc":"nd"},
{"i":198,"o":1.0896,"h":1.1157,"l":1.0784,"c":1.0986,"r":30.0,"a":-0.0629,"ad":"d","hv":-0.0106,"hc":"nd"},
{"i":199,"o":1.0986,"h":1.1079,"l":1.0811,"c":1.0906,"r":29.0,"a":-0.0752,"ad":"d","hv":-0.0108,"hc":"nd"},
{"i":200,"o":1.0912,"h":1.1047,"l":1.0644,"c":1.0865,"r":28.2,"a":-0.0828,"ad":"d","hv":-0.0115,"hc":"nd"},
{"i":201,"o":1.0869,"h":1.0869,"l":1.0584,"c":1.0664,"r":25.4,"a":-0.0859,"ad":"d","hv":-0.0113,"hc":"nu"},
{"i":202,"o":1.0664,"h":1.0939,"l":1.0584,"c":1.0857,"r":33.6,"a":-0.0828,"ad":"u","hv":-0.0095,"hc":"nu"},
{"i":203,"o":1.0857,"h":1.1091,"l":1.0658,"c":1.106,"r":38.9,"a":-0.0826,"ad":"u","hv":-0.0072,"hc":"nu"},
{"i":204,"o":1.106,"h":1.1122,"l":1.0744,"c":1.0841,"r":35.6,"a":-0.079,"ad":"u","hv":-0.0063,"hc":"nu"},
{"i":205,"o":1.0841,"h":1.1023,"l":1.0778,"c":1.0943,"r":38.2,"a":-0.0736,"ad":"u","hv":-0.0043,"hc":"nu"},
{"i":206,"o":1.0943,"h":1.1012,"l":1.0848,"c":1.0953,"r":38.5,"a":-0.0675,"ad":"u","hv":-0.0035,"hc":"nu"},
{"i":207,"o":1.0948,"h":1.1694,"l":1.0896,"c":1.1235,"r":47.2,"a":-0.0552,"ad":"u","hv":0.0017,"hc":"pu"},
{"i":208,"o":1.1235,"h":1.1471,"l":1.0958,"c":1.1056,"r":43.0,"a":-0.0491,"ad":"u","hv":0.0023,"hc":"pu"},
{"i":209,"o":1.106,"h":1.1091,"l":1.076,"c":1.0839,"r":38.9,"a":-0.0468,"ad":"u","hv":0.0009,"hc":"pd"},
{"i":210,"o":1.0839,"h":1.0939,"l":1.0451,"c":1.0548,"r":33.9,"a":-0.047,"ad":"d","hv":-0.002,"hc":"nd"},
{"i":211,"o":1.0551,"h":1.0628,"l":1.015,"c":1.0541,"r":33.6,"a":-0.0537,"ad":"d","hv":-0.0034,"hc":"nd"},
{"i":212,"o":1.0545,"h":1.0588,"l":1.0276,"c":1.0394,"r":31.5,"a":-0.0652,"ad":"d","hv":-0.0043,"hc":"nd"},
{"i":213,"o":1.0398,"h":1.0557,"l":1.0173,"c":1.027,"r":30.3,"a":-0.0782,"ad":"d","hv":-0.0054,"hc":"nd"},
{"i":214,"o":1.027,"h":1.0486,"l":1.0249,"c":1.0412,"r":35.3,"a":-0.0859,"ad":"d","hv":-0.0043,"hc":"nu"},
{"i":215,"o":1.0412,"h":1.0654,"l":1.0409,"c":1.0598,"r":39.72,"a":-0.0828,"ad":"u","hv":-0.0015,"hc":"nu"}
]},
"vconcat":[
{"width":2935,"height":771,
"layer":[
{"data":{"name":"pgrid"},"mark":{"type":"rule","color":"#242833","strokeWidth":1.5},
"encoding":{"x":{"datum":-0.57,"type":"quantitative","scale":{"domain":[-0.57,415.2],"nice":false,"zero":false},"axis":{"orient":"bottom","values":[19.625,61.625,103.625,145.625,187.625,229.625,283.625,313.625,355.625],"grid":true,"gridColor":"#242833","gridWidth":1.5,"labels":false}},"x2":{"datum":391.2},
"y":{"field":"p","type":"quantitative","scale":{"type":"log","domain":[0.91389,1.4086],"nice":false,"zero":false},"axis":{"orient":"right","offset":-169,"values":[1.4,1.3,1.2,1.15,1.1,0.98,0.93],"format":".4f","labelPadding":26,"domain":true,"domainColor":"#2a2e39","domainWidth":3}}}},
{"data":{"name":"levels"},"mark":{"type":"rule","strokeWidth":2},
"encoding":{"x":{"datum":-0.57,"type":"quantitative"},"x2":{"datum":391.2},"y":{"field":"p","type":"quantitative"},
"color":{"condition":{"test":"datum.k=='last'","value":"#26a69a"},"value":"#2962ff"},
"strokeDash":{"condition":{"test":"datum.k=='line'","value":[1,0]},"value":[2,5]}}},
{"data":{"name":"k"},"mark":{"type":"rule","strokeWidth":1.7},
"encoding":{"x":{"field":"i","type":"quantitative"},"y":{"field":"l","type":"quantitative"},"y2":{"field":"h"},
"color":{"condition":{"test":"datum.c>=datum.o","value":"#26a69a"},"value":"#ef5350"}}},
{"data":{"name":"k"},"mark":{"type":"bar","width":5.6},
"encoding":{"x":{"field":"i","type":"quantitative"},"y":{"field":"o","type":"quantitative"},"y2":{"field":"c"},
"color":{"condition":{"test":"datum.c>=datum.o","value":"#26a69a"},"value":"#ef5350"}}},
{"data":{"name":"tl"},"mark":{"type":"line","strokeWidth":2.6,"clip":true},
"encoding":{"x":{"field":"i","type":"quantitative"},"y":{"field":"p","type":"quantitative"},"detail":{"field":"id","type":"nominal"},
"color":{"condition":{"test":"datum.s=='range'||datum.s=='falling'","value":"#f7e53c"},"value":"#ffffff"},
"strokeDash":{"condition":{"test":"datum.s=='mid'","value":[12,13]},"value":[1,0]}}},
{"data":{"name":"levels"},"transform":[{"filter":"datum.k=='last'"}],"mark":{"type":"tick","orient":"horizontal","size":148,"thickness":46,"color":"#26a69a","opacity":1,"yOffset":2},
"encoding":{"x":{"datum":379.9,"type":"quantitative"},"y":{"field":"p","type":"quantitative"}}},
{"data":{"name":"levels"},"transform":[{"filter":"datum.k=='last'"}],"mark":{"type":"text","text":"XRPUSDT","align":"center","fontSize":23,"color":"#ffffff","yOffset":2},
"encoding":{"x":{"datum":379.9,"type":"quantitative"},"y":{"field":"p","type":"quantitative"}}},
{"data":{"name":"levels"},"transform":[{"filter":"datum.k!='last'"}],"mark":{"type":"tick","orient":"horizontal","size":129,"thickness":44,"color":"#2962ff","opacity":1,"cornerRadius":4,"yOffset":{"expr":"datum.t=='1.0799'?-9:datum.t=='1.0443'?53:0"}},
"encoding":{"x":{"datum":400.35,"type":"quantitative"},"y":{"field":"p","type":"quantitative"}}},
{"data":{"name":"levels"},"transform":[{"filter":"datum.k=='last'"}],"mark":{"type":"tick","orient":"horizontal","size":157,"thickness":79,"color":"#26a69a","opacity":1,"cornerRadius":4,"yOffset":19},
"encoding":{"x":{"datum":402.3,"type":"quantitative"},"y":{"field":"p","type":"quantitative"}}},
{"data":{"name":"levels"},"transform":[{"filter":"datum.k!='last'"}],"mark":{"type":"text","align":"left","fontSize":24,"color":"#ffffff","yOffset":{"expr":"datum.t=='1.0799'?-9:datum.t=='1.0443'?53:0"}},
"encoding":{"x":{"datum":394.9,"type":"quantitative"},"y":{"field":"p","type":"quantitative"},"text":{"field":"t"}}},
{"data":{"name":"levels"},"transform":[{"filter":"datum.k=='last'"}],"mark":{"type":"text","align":"left","fontSize":24,"color":"#ffffff"},
"encoding":{"x":{"datum":394.9,"type":"quantitative"},"y":{"field":"p","type":"quantitative"},"text":{"field":"t"}}},
{"data":{"name":"levels"},"transform":[{"filter":"datum.k=='last'"}],"mark":{"type":"text","align":"left","fontSize":24,"color":"#d6efec","yOffset":37},
"encoding":{"x":{"datum":394.9,"type":"quantitative"},"y":{"field":"p","type":"quantitative"},"text":{"field":"t2"}}},
{"data":{"values":[{}]},"mark":{"type":"tick","orient":"horizontal","size":86,"thickness":46,"color":"#434651","filled":false,"strokeWidth":2,"opacity":1,"cornerRadius":8},
"encoding":{"x":{"datum":403.1,"type":"quantitative"},"y":{"datum":1.3789,"type":"quantitative"}}},
{"data":{"values":[{}]},"mark":{"type":"text","text":"USDT","align":"center","fontSize":22,"color":"#b2b5be"},
"encoding":{"x":{"datum":403.1,"type":"quantitative"},"y":{"datum":1.3789,"type":"quantitative"}}},
{"data":{"values":[{}]},"mark":{"type":"text","text":"XRP / TetherUS, 4h, BINANCE","align":"left","fontSize":25,"color":"#d1d4dc"},"encoding":{"x":{"datum":1.98,"type":"quantitative"},"y":{"datum":1.3789,"type":"quantitative"}}},
{"data":{"values":[{}]},"mark":{"type":"text","text":"O","align":"left","fontSize":25,"color":"#d1d4dc"},"encoding":{"x":{"datum":60.48,"type":"quantitative"},"y":{"datum":1.3789,"type":"quantitative"}}},
{"data":{"values":[{}]},"mark":{"type":"text","text":"1.0412","align":"left","fontSize":25,"color":"#26a69a"},"encoding":{"x":{"datum":63.74,"type":"quantitative"},"y":{"datum":1.3789,"type":"quantitative"}}},
{"data":{"values":[{}]},"mark":{"type":"text","text":"H","align":"left","fontSize":25,"color":"#d1d4dc"},"encoding":{"x":{"datum":78.75,"type":"quantitative"},"y":{"datum":1.3789,"type":"quantitative"}}},
{"data":{"values":[{}]},"mark":{"type":"text","text":"1.0654","align":"left","fontSize":25,"color":"#26a69a"},"encoding":{"x":{"datum":81.59,"type":"quantitative"},"y":{"datum":1.3789,"type":"quantitative"}}},
{"data":{"values":[{}]},"mark":{"type":"text","text":"L","align":"left","fontSize":25,"color":"#d1d4dc"},"encoding":{"x":{"datum":96.6,"type":"quantitative"},"y":{"datum":1.3789,"type":"quantitative"}}},
{"data":{"values":[{}]},"mark":{"type":"text","text":"1.0409","align":"left","fontSize":25,"color":"#26a69a"},"encoding":{"x":{"datum":99.29,"type":"quantitative"},"y":{"datum":1.3789,"type":"quantitative"}}},
{"data":{"values":[{}]},"mark":{"type":"text","text":"C","align":"left","fontSize":25,"color":"#d1d4dc"},"encoding":{"x":{"datum":113.88,"type":"quantitative"},"y":{"datum":1.3789,"type":"quantitative"}}},
{"data":{"values":[{}]},"mark":{"type":"text","text":"1.0598","align":"left","fontSize":25,"color":"#26a69a"},"encoding":{"x":{"datum":116.86,"type":"quantitative"},"y":{"datum":1.3789,"type":"quantitative"}}},
{"data":{"values":[{}]},"mark":{"type":"text","text":"+0.0184 (+1.77%)","align":"left","fontSize":25,"color":"#26a69a"},"encoding":{"x":{"datum":132.15,"type":"quantitative"},"y":{"datum":1.3789,"type":"quantitative"}}}
]},
{"width":2935,"height":128,
"layer":[
{"data":{"values":[{}]},"mark":{"type":"rect","color":"#7e57c2","opacity":0.1},
"encoding":{"x":{"datum":-0.57,"type":"quantitative","scale":{"domain":[-0.57,415.2],"nice":false,"zero":false},"axis":{"orient":"bottom","values":[19.625,61.625,103.625,145.625,187.625,229.625,283.625,313.625,355.625],"grid":true,"gridColor":"#242833","gridWidth":1.5,"labels":false}},"x2":{"datum":391.2},
"y":{"datum":30,"type":"quantitative","scale":{"domain":[19.26,82.47],"nice":false,"zero":false},"axis":{"orient":"right","offset":-169,"values":[80,40],"format":".2f","labelPadding":26,"domain":true,"domainColor":"#2a2e39","domainWidth":3}},"y2":{"datum":70}}},
{"data":{"values":[{"v":80},{"v":40}]},"mark":{"type":"rule","color":"#242833","strokeWidth":1.5},
"encoding":{"x":{"datum":-0.57,"type":"quantitative"},"x2":{"datum":391.2},"y":{"field":"v","type":"quantitative"}}},
{"data":{"values":[{"v":70},{"v":50},{"v":30}]},"mark":{"type":"rule","color":"#787b86","strokeWidth":1.6,"strokeDash":[10,12]},
"encoding":{"x":{"datum":-0.57,"type":"quantitative"},"x2":{"datum":391.2},"y":{"field":"v","type":"quantitative"}}},
{"data":{"name":"k"},"mark":{"type":"line","color":"#7e57c2","strokeWidth":2},
"encoding":{"x":{"field":"i","type":"quantitative"},"y":{"field":"r","type":"quantitative"}}},
{"data":{"values":[{}]},"mark":{"type":"text","text":"RSI (14, close)","align":"left","fontSize":25,"color":"#c8cbd3"},"encoding":{"x":{"datum":2.41,"type":"quantitative"},"y":{"datum":62.7,"type":"quantitative"}}},
{"data":{"values":[{}]},"mark":{"type":"text","text":"39.72","align":"left","fontSize":25,"color":"#7e57c2"},"encoding":{"x":{"datum":32.0,"type":"quantitative"},"y":{"datum":62.7,"type":"quantitative"}}}
]},
{"width":2935,"height":92,
"layer":[
{"data":{"values":[{"v":0}]},"mark":{"type":"rule","color":"#242833","strokeWidth":1.5},
"encoding":{"x":{"datum":-0.57,"type":"quantitative","scale":{"domain":[-0.57,415.2],"nice":false,"zero":false},"axis":{"orient":"bottom","values":[19.625,61.625,103.625,145.625,187.625,229.625,283.625,313.625,355.625],"grid":true,"gridColor":"#242833","gridWidth":1.5,"labels":false}},"x2":{"datum":391.2},
"y":{"field":"v","type":"quantitative","scale":{"domain":[-0.1065,0.1051],"nice":false,"zero":false},"axis":{"orient":"right","offset":-169,"values":[0],"format":".4f","labelPadding":26,"domain":true,"domainColor":"#2a2e39","domainWidth":3}}}},
{"data":{"name":"k"},"mark":{"type":"bar","width":5},
"encoding":{"x":{"field":"i","type":"quantitative"},"y":{"field":"a","type":"quantitative"},"y2":{"datum":0},
"color":{"condition":{"test":"datum.ad=='u'","value":"#009688"},"value":"#f44336"}}},
{"data":{"values":[{}]},"mark":{"type":"text","text":"AO","align":"left","fontSize":25,"color":"#c8cbd3"},"encoding":{"x":{"datum":2.41,"type":"quantitative"},"y":{"datum":0.0138,"type":"quantitative"}}},
{"data":{"values":[{}]},"mark":{"type":"text","text":"-0.0828","align":"left","fontSize":25,"color":"#009688"},"encoding":{"x":{"datum":9.77,"type":"quantitative"},"y":{"datum":0.0138,"type":"quantitative"}}}
]},
{"width":2935,"height":94,
"layer":[
{"data":{"values":[{"v":0}]},"mark":{"type":"rule","color":"#2a2e39","strokeWidth":1.5},
"encoding":{"x":{"datum":-0.57,"type":"quantitative","scale":{"domain":[-0.57,415.2],"nice":false,"zero":false},"axis":{"orient":"bottom","values":[19.625,61.625,103.625,145.625,187.625,229.625,283.625,313.625,355.625],"grid":true,"gridColor":"#242833","gridWidth":1.5,"labels":false}},"x2":{"datum":391.2},
"y":{"field":"v","type":"quantitative","scale":{"domain":[-0.0409,0.0397],"nice":false,"zero":false},"axis":{"orient":"right","offset":-169,"values":[0],"format":".4f","labelPadding":26,"domain":true,"domainColor":"#2a2e39","domainWidth":3}}}},
{"data":{"name":"k"},"mark":{"type":"bar","width":5},
"encoding":{"x":{"field":"i","type":"quantitative"},"y":{"field":"hv","type":"quantitative"},"y2":{"datum":0},
"color":{"condition":[{"test":"datum.hc=='pu'","value":"#26a69a"},{"test":"datum.hc=='pd'","value":"#b2dfdb"},{"test":"datum.hc=='nu'","value":"#ffcdd2"}],"value":"#ff5252"}}},
{"data":{"name":"ml"},"mark":{"type":"line","color":"#2962ff","strokeWidth":2.6},
"encoding":{"x":{"field":"i","type":"quantitative"},"y":{"field":"m","type":"quantitative"}}},
{"data":{"name":"sl"},"mark":{"type":"line","color":"#ff6d00","strokeWidth":2.6},
"encoding":{"x":{"field":"i","type":"quantitative"},"y":{"field":"s","type":"quantitative"}}},
{"data":{"values":[{}]},"mark":{"type":"text","text":"MACD (12, 26, close, 9, EMA, EMA)","align":"left","fontSize":25,"color":"#c8cbd3"},"encoding":{"x":{"datum":2.41,"type":"quantitative"},"y":{"datum":0.0054,"type":"quantitative"}}},
{"data":{"values":[{}]},"mark":{"type":"text","text":"-0.0015","align":"left","fontSize":25,"color":"#ffcdd2"},"encoding":{"x":{"datum":70.54,"type":"quantitative"},"y":{"datum":0.0054,"type":"quantitative"}}},
{"data":{"values":[{}]},"mark":{"type":"text","text":"-0.0299","align":"left","fontSize":25,"color":"#2962ff"},"encoding":{"x":{"datum":88.39,"type":"quantitative"},"y":{"datum":0.0054,"type":"quantitative"}}},
{"data":{"values":[{}]},"mark":{"type":"text","text":"-0.0284","align":"left","fontSize":25,"color":"#ff6d00"},"encoding":{"x":{"datum":107.79,"type":"quantitative"},"y":{"datum":0.0054,"type":"quantitative"}}}
]},
{"width":2935,"height":69,
"layer":[
{"data":{"values":[{}]},"mark":{"type":"rule","color":"#2a2e39","strokeWidth":3},
"encoding":{"x":{"datum":391.2,"type":"quantitative","scale":{"domain":[-0.57,415.2],"nice":false,"zero":false},
"axis":{"orient":"bottom","offset":-69,"values":[19.625,61.625,103.625,145.625,187.625,229.625,283.625,313.625,355.625],"labels":true,"labelPadding":23,"labelColor":"#c8cbd3","labelExpr":"datum.value<30?'18':datum.value<70?'25':datum.value<110?'Nov':datum.value<150?'8':datum.value<200?'15':datum.value<250?'22':datum.value<300?'Dec':datum.value<330?'6':'13'"}}}}
]},
{"width":2935,"height":88,"view":{"fill":null,"stroke":null},
"layer":[
{"data":{"values":[{}]},"mark":{"type":"point","filled":true,"opacity":1,"color":"#d1d4dc","size":2809,"strokeWidth":0,
"shape":"M-1,-0.47H-0.245V0.47H-0.585V-0.132H-1Z M-0.151,-0.302A0.17,0.17 0 1,0 0.189,-0.302A0.17,0.17 0 1,0 -0.151,-0.302Z M0.509,-0.47H1L0.547,0.47H0.057Z"},
"encoding":{"x":{"datum":2.9,"type":"quantitative","scale":{"domain":[-0.57,415.2],"nice":false,"zero":false},"axis":null},"y":{"datum":0.5,"type":"quantitative","scale":{"domain":[0,1]},"axis":null}}},
{"data":{"values":[{}]},"mark":{"type":"text","text":"TradingView","align":"left","fontSize":29,"fontWeight":600,"color":"#d1d4dc"},
"encoding":{"x":{"datum":8.07,"type":"quantitative","axis":null},"y":{"datum":0.5,"type":"quantitative","axis":null}}}
]}
]
}
